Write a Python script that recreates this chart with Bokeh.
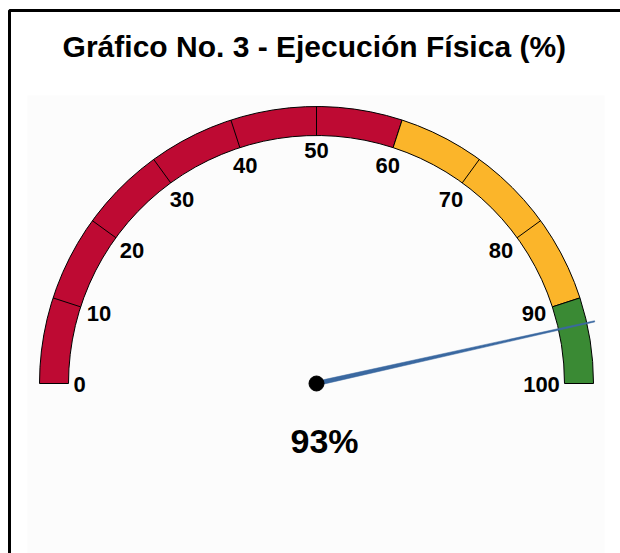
import math
from bokeh.plotting import figure
from bokeh.models import Range1d
from bokeh.core.properties import value
from bokeh.embed import file_html
from bokeh.resources import INLINE

# ---- data ----
title_text = "Gráfico No. 3 -  Ejecución Física (%)"
band_starts = [0, 60, 90]
band_ends = [60, 90, 100]
band_colors = ["#be0a33", "#fbb52a", "#3a8a34"]
tick_values = [0, 10, 20, 30, 40, 50, 60, 70, 80, 90, 100]
tick_labels = ["0", "10", "20", "30", "40", "50", "60", "70", "80", "90", "100"]
divider_values = [10, 20, 30, 40, 50, 70, 80]
needle_value = 93
value_label = "93%"

# ---- layout ----
W, H = 620, 553
CX, CY = 316, 383           # gauge centre, pixels from top-left of figure
R_OUT, R_IN = 277, 248
FONT = value("Liberation Sans")

p = figure(width=W, height=H, output_backend="svg", toolbar_location=None,
           x_range=Range1d(-CX, W - CX), y_range=Range1d(-(H - CY), CY),
           min_border=0, min_border_left=0, min_border_right=0,
           min_border_top=0, min_border_bottom=0)
p.axis.visible = False
p.grid.visible = False
p.outline_line_color = None
p.background_fill_color = "white"
p.border_fill_color = "white"

# plot area background
p.quad(left=-CX + 27, right=-CX + 604, top=CY - 95, bottom=-(H - CY), fill_color="#fcfcfc", line_color=None)

# outer border (left and top edges visible)
p.line(x=[-CX + 9, -CX + 9, W - CX + 5], y=[-(H - CY) - 5, CY - 10, CY - 10], line_color="black", line_width=3)

def ang(v):
    return math.pi * (1 - v / 100.0)

# bands
p.annular_wedge(x=[0] * len(band_starts), y=[0] * len(band_starts),
                inner_radius=R_IN, outer_radius=R_OUT,
                start_angle=[ang(e) for e in band_ends], end_angle=[ang(s) for s in band_starts],
                direction="anticlock", fill_color=band_colors, line_color="black", line_width=1)

# divider lines
p.segment(x0=[R_IN * math.cos(ang(v)) for v in divider_values], y0=[R_IN * math.sin(ang(v)) for v in divider_values],
          x1=[R_OUT * math.cos(ang(v)) for v in divider_values], y1=[R_OUT * math.sin(ang(v)) for v in divider_values],
          line_color="black", line_width=1)

# tick labels
lx, ly = [], []
for v, t in zip(tick_values, tick_labels):
    a = ang(v)
    w = len(t) * 12
    h = 18
    r = 243 - (abs(math.cos(a)) * w / 2 + abs(math.sin(a)) * h / 2)
    lx.append(r * math.cos(a))
    ly.append(r * math.sin(a) - 1)
p.text(x=lx, y=ly, text=tick_labels, text_font=FONT, text_font_style="bold", text_font_size="22px",
       text_align="center", text_baseline="middle", text_color="black")

# needle
a = ang(needle_value)
L = 285
bw = 2.2
tw = 0.6
nx = [-bw * math.sin(a), L * math.cos(a) - tw * math.sin(a), L * math.cos(a) + tw * math.sin(a), bw * math.sin(a)]
ny = [bw * math.cos(a), L * math.sin(a) + tw * math.cos(a), L * math.sin(a) - tw * math.cos(a), -bw * math.cos(a)]
p.patch(x=nx, y=ny, fill_color="#3a68a0", line_color="#3a68a0", line_width=0.5)
p.scatter(x=[0], y=[0], size=15, fill_color="black", line_color="black")

# value label
p.text(x=[8], y=[-57], text=[value_label], text_font=FONT, text_font_style="bold", text_font_size="34px",
       text_align="center", text_baseline="middle", text_color="black")

# title
p.text(x=[2], y=[CY - 46], text=[title_text], text_font=FONT, text_font_style="bold", text_font_size="30px",
       text_align="center", text_baseline="alphabetic", text_color="black")

open("out.html", "w").write(file_html(p, INLINE))
